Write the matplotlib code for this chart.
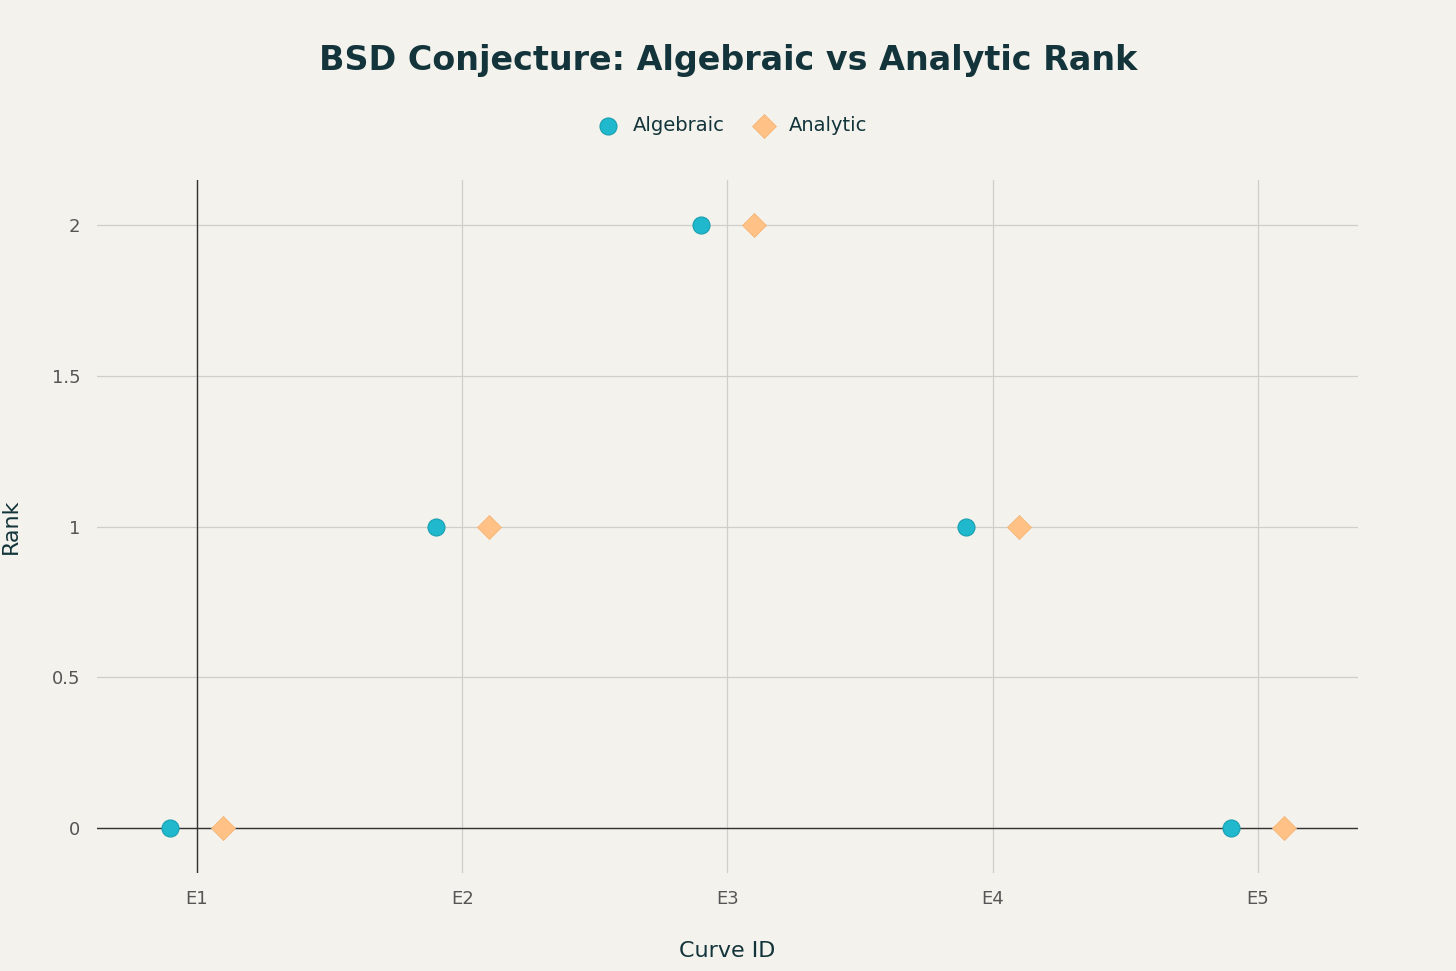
import matplotlib.pyplot as plt
import numpy as np

curves = ["E1", "E2", "E3", "E4", "E5"]
algebraic = [0, 1, 2, 1, 0]
analytic = [0, 1, 2, 1, 0]
yticks = [0, 0.5, 1, 1.5, 2]
ytick_labels = ["0", "0.5", "1", "1.5", "2"]

bg = "#F3F2EC"
fig = plt.figure(figsize=(14.56, 9.71), dpi=100, facecolor=bg)
ax = fig.add_axes([0.0666, 0.1009, 0.866, 0.7137], facecolor=bg)
x = np.arange(len(curves))
ax.scatter(x - 0.1, algebraic, s=150, marker="o", color="#1FB8CD", edgecolor="#1A9FB0", linewidth=0.8, zorder=3, label="Algebraic")
ax.scatter(x + 0.1, analytic, s=150, marker="D", color="#FFC185", edgecolor="#F5B070", linewidth=0.5, zorder=3, label="Analytic")
ax.set_xlim(-0.377, 4.377)
ax.set_ylim(-0.149, 2.149)
ax.set_xticks(x)
ax.set_xticklabels(curves)
ax.set_yticks(yticks)
ax.set_yticklabels(ytick_labels)
ax.grid(True, color="#CFCFCA", linewidth=0.9)
ax.set_axisbelow(True)
ax.axhline(0, color="#333333", linewidth=1, zorder=2)
ax.axvline(0, color="#333333", linewidth=1, zorder=2)
for s in ax.spines.values():
    s.set_visible(False)
ax.tick_params(length=0, labelsize=13, colors="#555555", pad=12)
ax.set_xlabel("Curve ID", fontsize=16, color="#13343B", labelpad=24)
ax.set_ylabel("Rank", fontsize=16, color="#13343B", labelpad=22)
fig.text(0.5, 0.938, "BSD Conjecture: Algebraic vs Analytic Rank", ha="center", va="center",
         fontsize=24, fontweight="bold", color="#13343B")
fig.legend(loc="center", bbox_to_anchor=(0.5, 0.871), ncol=2, frameon=False, fontsize=14,
           handletextpad=0.3, columnspacing=1.0, labelcolor="#13343B")
fig.savefig("out.png", dpi=100, facecolor=bg)
